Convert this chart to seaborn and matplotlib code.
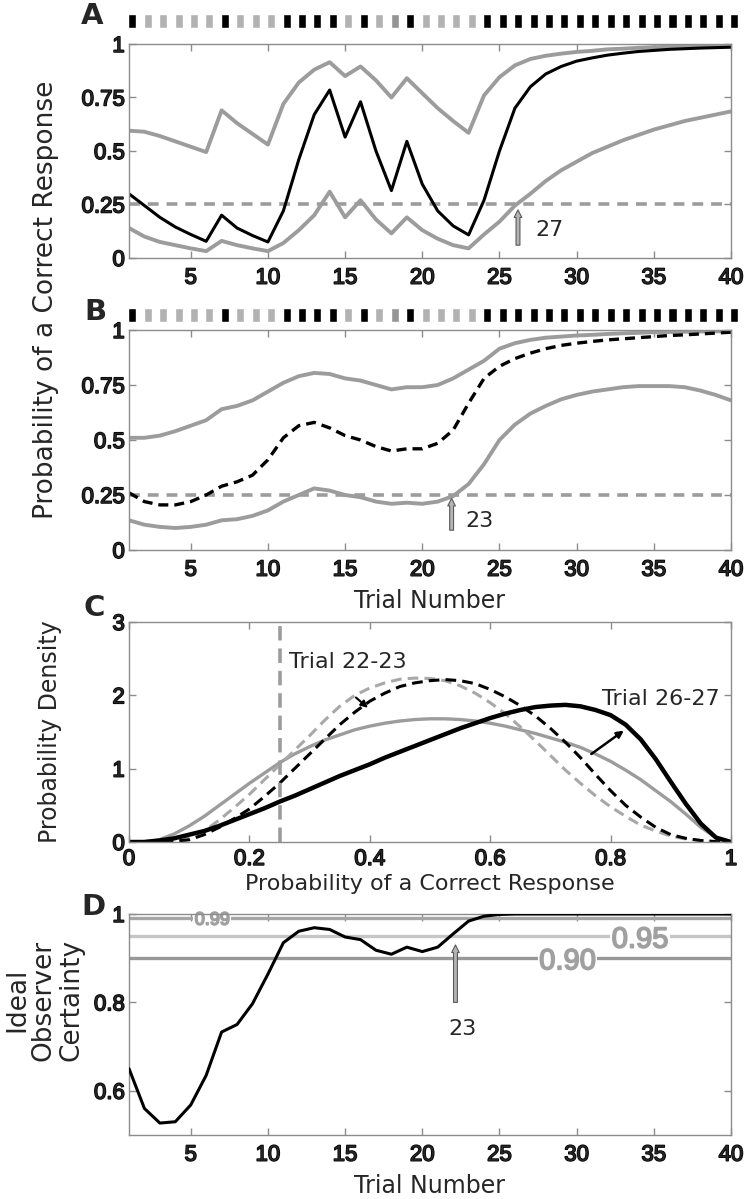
"""
Learning curve figure (A-D): state-space estimate of correct-response probability,
posterior densities and ideal observer certainty.
"""
import matplotlib
matplotlib.use("Agg")
import matplotlib.patheffects as pe
import matplotlib.pyplot as plt
import pandas as pd
import seaborn as sns

# ---------------------------------------------------------------------------
# data
# ---------------------------------------------------------------------------
TRIALS = list(range(1, 41))
# 1 = correct (black square), 0 = incorrect (gray square)
RESPONSES = [1, 0, 0, 0, 0, 0, 1, 0, 0, 0,
             1, 1, 1, 1, 0, 1, 0, 0, 1, 0,
             0, 0, 0, 1, 1, 1, 1, 1, 1, 1,
             1, 1, 1, 1, 1, 1, 1, 1, 1, 1]

# panel A : sequential (forward) estimate
A_MODE = [0.30, 0.245, 0.19, 0.145, 0.11, 0.078, 0.20, 0.14, 0.105, 0.075,
          0.22, 0.46, 0.67, 0.785, 0.565, 0.73, 0.50, 0.315, 0.545, 0.345,
          0.22, 0.15, 0.108, 0.27, 0.50, 0.70, 0.80, 0.86, 0.895, 0.92,
          0.935, 0.948, 0.957, 0.965, 0.97, 0.975, 0.978, 0.981, 0.983, 0.985]
A_UPPER = [0.595, 0.59, 0.57, 0.545, 0.52, 0.495, 0.69, 0.63, 0.58, 0.53,
           0.72, 0.82, 0.88, 0.915, 0.85, 0.895, 0.83, 0.75, 0.84, 0.77,
           0.70, 0.64, 0.585, 0.76, 0.845, 0.90, 0.93, 0.945, 0.955, 0.963,
           0.968, 0.975, 0.978, 0.982, 0.985, 0.987, 0.988, 0.989, 0.99, 0.99]
A_LOWER = [0.14, 0.10, 0.075, 0.06, 0.045, 0.032, 0.08, 0.06, 0.045, 0.032,
           0.07, 0.13, 0.20, 0.31, 0.19, 0.27, 0.18, 0.115, 0.19, 0.13,
           0.09, 0.06, 0.045, 0.11, 0.17, 0.245, 0.30, 0.36, 0.41, 0.45,
           0.49, 0.52, 0.55, 0.575, 0.60, 0.62, 0.64, 0.655, 0.67, 0.685]

# panel B : smoothed estimate
B_MODE = [0.26, 0.22, 0.205, 0.205, 0.22, 0.25, 0.29, 0.31, 0.34, 0.41,
          0.51, 0.565, 0.58, 0.555, 0.52, 0.50, 0.47, 0.45, 0.46, 0.46,
          0.485, 0.545, 0.667, 0.78, 0.835, 0.87, 0.895, 0.915, 0.93, 0.94,
          0.948, 0.955, 0.96, 0.965, 0.97, 0.975, 0.978, 0.982, 0.986, 0.99]
B_UPPER = [0.51, 0.51, 0.52, 0.54, 0.565, 0.59, 0.64, 0.655, 0.68, 0.72,
           0.76, 0.79, 0.805, 0.80, 0.78, 0.77, 0.75, 0.73, 0.74, 0.74,
           0.75, 0.78, 0.82, 0.86, 0.915, 0.94, 0.955, 0.965, 0.97, 0.975,
           0.978, 0.982, 0.985, 0.987, 0.99, 0.991, 0.992, 0.993, 0.994, 0.995]
B_LOWER = [0.135, 0.115, 0.105, 0.10, 0.105, 0.115, 0.135, 0.14, 0.155, 0.18,
           0.22, 0.25, 0.28, 0.27, 0.25, 0.24, 0.22, 0.21, 0.215, 0.21,
           0.22, 0.245, 0.30, 0.39, 0.50, 0.57, 0.62, 0.655, 0.685, 0.705,
           0.72, 0.73, 0.74, 0.745, 0.745, 0.745, 0.74, 0.725, 0.705, 0.68]

CHANCE = 0.25

# panel C : posterior densities (read every 0.025)
P_GRID = [0.0, 0.025, 0.05, 0.075, 0.1, 0.125, 0.15, 0.175, 0.2, 0.225,
          0.25, 0.275, 0.3, 0.325, 0.35, 0.375, 0.4, 0.425, 0.45, 0.475,
          0.5, 0.525, 0.55, 0.575, 0.6, 0.625, 0.65, 0.675, 0.7, 0.725,
          0.75, 0.775, 0.8, 0.825, 0.85, 0.875, 0.9, 0.925, 0.95, 0.975, 1.0]
DENS_GRAY_SOLID = [0.0, 0.0, 0.03, 0.11, 0.22, 0.35, 0.5, 0.65, 0.8, 0.94,
                   1.08, 1.2, 1.3, 1.39, 1.46, 1.53, 1.58, 1.62, 1.65, 1.67,
                   1.68, 1.68, 1.67, 1.65, 1.62, 1.58, 1.53, 1.48, 1.42, 1.36,
                   1.29, 1.2, 1.1, 0.98, 0.85, 0.7, 0.55, 0.38, 0.2, 0.06, 0.0]
DENS_GRAY_DASH = [0.0, 0.0, 0.0, 0.01, 0.05, 0.15, 0.3, 0.47, 0.65, 0.85,
                  1.05, 1.25, 1.45, 1.66, 1.85, 2.0, 2.1, 2.17, 2.22, 2.235,
                  2.23, 2.2, 2.13, 2.03, 1.9, 1.75, 1.57, 1.38, 1.18, 0.98,
                  0.8, 0.63, 0.48, 0.35, 0.23, 0.15, 0.08, 0.04, 0.02, 0.005, 0.0]
DENS_BLACK_DASH = [0.0, 0.0, 0.0, 0.01, 0.03, 0.1, 0.2, 0.32, 0.45, 0.62,
                   0.8, 1.0, 1.2, 1.4, 1.6, 1.77, 1.92, 2.03, 2.12, 2.17,
                   2.2, 2.215, 2.2, 2.16, 2.08, 1.98, 1.86, 1.72, 1.55, 1.36,
                   1.15, 0.92, 0.7, 0.5, 0.34, 0.2, 0.1, 0.05, 0.02, 0.005, 0.0]
DENS_BLACK_SOLID = [0.0, 0.0, 0.02, 0.05, 0.1, 0.15, 0.22, 0.3, 0.38, 0.46,
                    0.55, 0.63, 0.72, 0.81, 0.9, 0.98, 1.06, 1.15, 1.23, 1.31,
                    1.39, 1.47, 1.55, 1.62, 1.69, 1.75, 1.8, 1.84, 1.86, 1.87,
                    1.85, 1.8, 1.73, 1.6, 1.4, 1.13, 0.82, 0.52, 0.25, 0.06, 0.0]

# panel D : ideal observer certainty
CERTAINTY = [0.65, 0.56, 0.527, 0.53, 0.568, 0.635, 0.733, 0.75, 0.797, 0.864,
             0.935, 0.961, 0.969, 0.965, 0.948, 0.942, 0.918, 0.909, 0.925, 0.915,
             0.925, 0.955, 0.984, 0.995, 0.999, 1.0, 1.0, 1.0, 1.0, 1.0,
             1.0, 1.0, 1.0, 1.0, 1.0, 1.0, 1.0, 1.0, 1.0, 1.0]
LEVELS = [0.99, 0.95, 0.90]
LEVEL_LABELS = ["0.99", "0.95", "0.90"]

# ---------------------------------------------------------------------------
# style
# ---------------------------------------------------------------------------
sns.set_style("ticks")
plt.rcParams["font.family"] = ["DejaVu Sans"]
plt.rcParams["axes.edgecolor"] = "#8c8c8c"
plt.rcParams["axes.linewidth"] = 1.0

GRAY = "#9c9c9c"
SPINE = "#8c8c8c"
NUM_FAMILY = ["Liberation Sans", "DejaVu Sans"]
TICK_FONT = dict(family=NUM_FAMILY, size=16)
HEAVY = [pe.withStroke(linewidth=1.1, foreground="black")]
LABEL_SIZE = 17

W, H = 749, 1199
fig = plt.figure(figsize=(W / 100, H / 100), dpi=100)


def px_axes(left, top, right, bottom):
    return fig.add_axes([left / W, 1 - bottom / H, (right - left) / W, (bottom - top) / H])


def style_axes(ax, xticks, yticks, xlabels, ylabels):
    ax.set_xticks(xticks)
    ax.set_yticks(yticks)
    ax.set_xticklabels(xlabels, fontdict=TICK_FONT)
    ax.set_yticklabels(ylabels, fontdict=TICK_FONT)
    for lab in ax.get_xticklabels() + ax.get_yticklabels():
        lab.set_path_effects(HEAVY)
    ax.tick_params(direction="in", length=5, width=1, color=SPINE, top=True, right=True)
    ax.tick_params(axis="x", pad=7)
    ax.tick_params(axis="y", pad=3)
    for s in ax.spines.values():
        s.set_color(SPINE)


def square_strip(top, bottom):
    ax = px_axes(129, top, 731, bottom)
    df = pd.DataFrame({"trial": TRIALS, "resp": RESPONSES})
    cols = ["#000000" if r == 1 else "#b2b2b2" for r in RESPONSES]
    cols[17] = "#959595"
    ax.bar(df["trial"] - 0.05, 1, width=0.52, align="edge", color=cols, clip_on=False)
    ax.set_xlim(1, 40)
    ax.set_ylim(0, 1)
    ax.axis("off")


def block_arrow(ax, x, y0, y1):
    ax.annotate("", xy=(x, y1), xytext=(x, y0),
                arrowprops=dict(arrowstyle="simple,head_length=0.55,head_width=0.55,tail_width=0.28",
                                fc="#b4b4b4", ec="#5a5a5a", lw=0.8, shrinkA=0, shrinkB=0))


def trial_panel(ax, lower, mode, upper, mode_dashed):
    sns.lineplot(x=TRIALS, y=upper, ax=ax, color=GRAY, lw=2.8, sort=False)
    sns.lineplot(x=TRIALS, y=lower, ax=ax, color=GRAY, lw=2.8, sort=False)
    ax.axhline(CHANCE, color=GRAY, lw=2.6, ls=(0, (3, 2.2)))
    if mode_dashed:
        sns.lineplot(x=TRIALS, y=mode, ax=ax, color="black", lw=2.4, ls=(0, (3, 1.8)), sort=False)
    else:
        sns.lineplot(x=TRIALS, y=mode, ax=ax, color="black", lw=2.2, sort=False)
    ax.set_xlim(1, 40)
    ax.set_ylim(0, 1)
    style_axes(ax, [5, 10, 15, 20, 25, 30, 35, 40], [0, 0.25, 0.5, 0.75, 1],
               ["5", "10", "15", "20", "25", "30", "35", "40"],
               ["0", "0.25", "0.5", "0.75", "1"])


# ---------------------------------------------------------------------------
# A
# ---------------------------------------------------------------------------
axA = px_axes(129, 44, 731, 258)
trial_panel(axA, A_LOWER, A_MODE, A_UPPER, mode_dashed=False)
block_arrow(axA, 26.2, 0.06, 0.225)
axA.text(27.3, 0.13, "27", fontsize=16, va="center", ha="left")
square_strip(14, 28)

# ---------------------------------------------------------------------------
# B
# ---------------------------------------------------------------------------
axB = px_axes(129, 330, 731, 550)
trial_panel(axB, B_LOWER, B_MODE, B_UPPER, mode_dashed=True)
block_arrow(axB, 21.9, 0.09, 0.235)
axB.text(22.8, 0.13, "23", fontsize=16, va="center", ha="left")
axB.set_xlabel("Trial Number", fontsize=LABEL_SIZE, labelpad=6)
square_strip(308, 322)

fig.text(46 / W, 1 - 300 / H, "Probability of a Correct Response", rotation=90,
         fontsize=19, ha="center", va="center")

# ---------------------------------------------------------------------------
# C
# ---------------------------------------------------------------------------
axC = px_axes(129, 622, 731, 842)
sns.lineplot(x=P_GRID, y=DENS_GRAY_SOLID, ax=axC, color=GRAY, lw=2.4)
sns.lineplot(x=P_GRID, y=DENS_GRAY_DASH, ax=axC, color="#a8a8a8", lw=2.2, ls=(0, (3.5, 2)))
sns.lineplot(x=P_GRID, y=DENS_BLACK_DASH, ax=axC, color="black", lw=2.2, ls=(0, (3.5, 2)))
sns.lineplot(x=P_GRID, y=DENS_BLACK_SOLID, ax=axC, color="black", lw=3.2)
axC.axvline(CHANCE, color=GRAY, lw=2.6, ls=(0, (4, 2.2)))
axC.set_xlim(0, 1)
axC.set_ylim(0, 3)
style_axes(axC, [0, 0.2, 0.4, 0.6, 0.8, 1], [0, 1, 2, 3],
           ["0", "0.2", "0.4", "0.6", "0.8", "1"], ["0", "1", "2", "3"])
axC.tick_params(axis="x", pad=5)
axC.text(0.265, 2.45, "Trial 22-23", fontsize=16, va="center", ha="left")
axC.text(0.785, 1.95, "Trial 26-27", fontsize=16, va="center", ha="left")
axC.annotate("", xy=(0.397, 1.83), xytext=(0.377, 1.97),
             arrowprops=dict(arrowstyle="-|>", color="black", lw=1.5, shrinkA=0, shrinkB=0))
axC.annotate("", xy=(0.822, 1.52), xytext=(0.768, 1.2),
             arrowprops=dict(arrowstyle="-|>", color="black", lw=1.8, shrinkA=0, shrinkB=0))
axC.set_xlabel("Probability of a Correct Response", fontsize=16, labelpad=3)
axC.set_ylabel("Probability Density", fontsize=LABEL_SIZE, labelpad=36)

# ---------------------------------------------------------------------------
# D
# ---------------------------------------------------------------------------
axD = px_axes(129, 914, 731, 1135)
level_cols = ["#a6a6a6", "#c6c6c6", "#999999"]
for lv, col in zip(LEVELS, level_cols):
    axD.axhline(lv, color=col, lw=2.4, zorder=1)
lv_pos = [(6.4, 0.986, 13), (34.1, 0.942, 21), (29.4, 0.893, 21)]
for lab, (lx, ly, fs) in zip(LEVEL_LABELS, lv_pos):
    t = axD.text(lx, ly, lab, fontsize=fs, color="#a0a0a0", family=NUM_FAMILY,
                 ha="center", va="center", zorder=2,
                 bbox=dict(fc="white", ec="none", pad=1))
    t.set_path_effects([pe.withStroke(linewidth=1.2, foreground="#a0a0a0")])
sns.lineplot(x=TRIALS, y=CERTAINTY, ax=axD, color="black", lw=2.2, zorder=3)
block_arrow(axD, 22.15, 0.80, 0.93)
axD.text(22.6, 0.74, "23", fontsize=16, ha="center", va="center")
axD.set_xlim(1, 40)
axD.set_ylim(0.5, 1.0)
style_axes(axD, [5, 10, 15, 20, 25, 30, 35, 40], [0.6, 0.8, 1.0],
           ["5", "10", "15", "20", "25", "30", "35", "40"], ["0.6", "0.8", "1"])
axD.set_xlabel("Trial Number", fontsize=LABEL_SIZE, labelpad=6)
fig.text(44 / W, 1 - 1000 / H, "Ideal\nObserver\nCertainty", rotation=90,
         fontsize=19, ha="center", va="center", linespacing=1.05)

# panel letters
for letter, (lx, ly) in zip("ABCD", [(92, 16), (95, 312), (94, 608), (93, 907)]):
    fig.text(lx / W, 1 - ly / H, letter, fontsize=21, weight="bold",
             ha="center", va="center")

fig.savefig("out.png", dpi=100)
